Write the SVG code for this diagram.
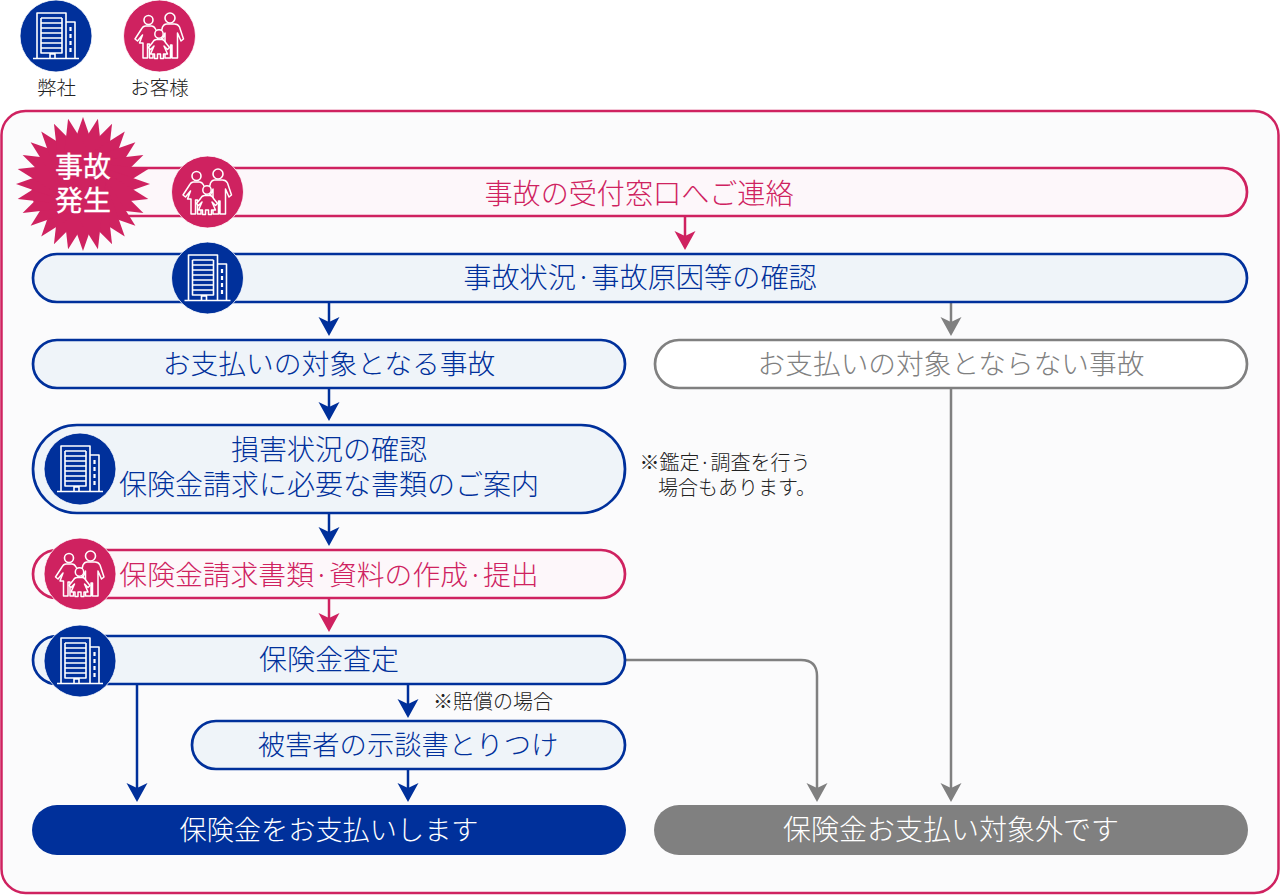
<svg xmlns="http://www.w3.org/2000/svg" width="1280" height="895" viewBox="0 0 1280 895">
<style>
text{font-family:"Noto Sans CJK JP","Noto Sans",sans-serif;text-anchor:middle;font-weight:300}
.t{font-size:28px}
.n{fill:#00309b}.p{fill:#cf2260}.g{fill:#808080}.w{fill:#fff}
.box{stroke-width:2.700}
.bn{fill:#eff4f9;stroke:#00309b}.bp{fill:#fdf7fa;stroke:#cf2260}.bg{fill:#fff;stroke:#808080}
.note{font-size:20px;fill:#222}
.lg{font-size:19.500px;fill:#222}
.ln{fill:none;stroke-width:2.500}
.i{fill:none;stroke:#fff;stroke-width:1.600;stroke-linejoin:round}
.f{fill:#cf2260;stroke:#fff;stroke-width:1.500;stroke-linejoin:round}
.burst{stroke:#fff;stroke-width:.3px;font-weight:400}
</style>
<defs>
<marker id="an" viewBox="0 -11 19 22" markerUnits="userSpaceOnUse" markerWidth="19" markerHeight="22" refX="5" refY="0" orient="auto"><path d="M19,0L0,-10.500L5,0L0,10.500Z" fill="#00309b"/></marker>
<marker id="ap" viewBox="0 -11 19 22" markerUnits="userSpaceOnUse" markerWidth="19" markerHeight="22" refX="5" refY="0" orient="auto"><path d="M19,0L0,-10.500L5,0L0,10.500Z" fill="#cf2260"/></marker>
<marker id="ag" viewBox="0 -11 19 22" markerUnits="userSpaceOnUse" markerWidth="19" markerHeight="22" refX="5" refY="0" orient="auto"><path d="M19,0L0,-10.500L5,0L0,10.500Z" fill="#808080"/></marker>
<g id="bld">
<circle r="36" fill="#00309b" stroke="#fff" stroke-width=".8"/>
<path class="i" d="M-19,22V-23H10V22M10,-14H19V22M-23,22.500H23M-15,-18H6M-15,-13H6M-15,-8H6M-15,-3H6M-15,2H6M-15,7H6M-15,12H6M-15,-18V17H6V-18M-6,22V18H-1V22"/>
<path d="M14.500,-9v4M14.500,-2v4M14.500,5v4M14.500,12v4" stroke="#fff" stroke-width="2.200" fill="none"/>
</g>
<g id="fam">
<circle r="36" fill="#cf2260" stroke="#fff" stroke-width=".8"/>
<circle class="i" cx="-11" cy="-16" r="4.500"/><circle class="i" cx="10.500" cy="-18" r="5"/>
<path class="f" d="M-14,-10H-8C-6,-10 -5,-9 -4,-7L-1,-1L-3,7H-6.500V22H-10V8H-12V22H-16.500V7H-20L-17,-1L-22,5L-24.500,3L-18,-7C-17,-9 -16,-10 -14,-10Z"/>
<path class="f" d="M5.500,22V-3L3,3L.5,1L3,-9C4,-11 5,-12 7,-12H15C18,-12 19,-11 20,-9L24,3L21.500,5L18,-3V22H12.500V9H11V22Z"/>
<circle class="f" cx="-.5" cy="-2" r="4.200"/>
<path class="f" d="M-3,3.500H2.500C4,3.500 5,4.500 6,6.500L10,11.500L8,13.500L4.500,10L8,18H4V22.500H1V18H-2V22.500H-5V18H-9L-5.500,10L-9,13.500L-11,11.500L-7,6.500C-6,4.500 -5,3.500 -3,3.500Z"/>
</g>
<polygon id="sp" points="0,-67 23.400,0 0,67 -23.400,0" fill="#cf2260"/>
</defs>
<rect x="1.500" y="111" width="1277" height="782" rx="24" fill="#fbfbfc" stroke="#cf2260" stroke-width="2.500"/>

<g id="legend-company"><use href="#bld" x="56" y="36"/><text class="lg" x="56.500" y="95">弊社</text></g>
<g id="legend-customer"><use href="#fam" x="159.500" y="36"/><text class="lg" x="159.500" y="95">お客様</text></g>

<g id="connectors">
<path class="ln" stroke="#cf2260" d="M685,217V236" marker-end="url(#ap)"/>
<path class="ln" stroke="#00309b" d="M329,302V322" marker-end="url(#an)"/>
<path class="ln" stroke="#808080" d="M951,302V322" marker-end="url(#ag)"/>
<path class="ln" stroke="#00309b" d="M329,388V407" marker-end="url(#an)"/>
<path class="ln" stroke="#00309b" d="M329,513V532" marker-end="url(#an)"/>
<path class="ln" stroke="#cf2260" d="M329,598V618" marker-end="url(#ap)"/>
<path class="ln" stroke="#00309b" d="M137,684V788" marker-end="url(#an)"/>
<path class="ln" stroke="#00309b" d="M408,684V704" marker-end="url(#an)"/>
<path class="ln" stroke="#00309b" d="M408,769V788" marker-end="url(#an)"/>
<path class="ln" stroke="#808080" d="M625,660H801Q817,660 817,676V788" marker-end="url(#ag)"/>
<path class="ln" stroke="#808080" d="M951,388V788" marker-end="url(#ag)"/>
</g>

<g id="n-accident-contact">
<rect class="box bp" x="33" y="168" width="1214" height="48" rx="24"/>
<text class="t p" x="639" y="204" style="font-size:28.100px">事故の受付窓口へご連絡</text>
<use href="#fam" x="207.500" y="192"/>
</g>
<g id="n-burst">
<g transform="translate(83,184)">
<use href="#sp"/><use href="#sp" transform="rotate(12.860)"/><use href="#sp" transform="rotate(25.710)"/><use href="#sp" transform="rotate(38.570)"/><use href="#sp" transform="rotate(51.430)"/><use href="#sp" transform="rotate(64.290)"/><use href="#sp" transform="rotate(77.140)"/><use href="#sp" transform="rotate(90)"/><use href="#sp" transform="rotate(102.860)"/><use href="#sp" transform="rotate(115.710)"/><use href="#sp" transform="rotate(128.570)"/><use href="#sp" transform="rotate(141.430)"/><use href="#sp" transform="rotate(154.290)"/><use href="#sp" transform="rotate(167.140)"/>
</g>
<text class="t w burst" x="83" y="177">事故</text>
<text class="t w burst" x="83" y="211">発生</text>
</g>
<g id="n-confirm">
<rect class="box bn" x="33" y="254" width="1214" height="48" rx="24"/>
<text class="t n" x="640" y="288" style="font-size:28.200px">事故状況·事故原因等の確認</text>
<use href="#bld" x="207.500" y="278"/>
</g>
<g id="n-covered">
<rect class="box bn" x="33" y="340" width="592" height="48" rx="24"/>
<text class="t n" x="329" y="374" style="font-size:27.800px">お支払いの対象となる事故</text>
</g>
<g id="n-not-covered">
<rect class="box bg" x="655" y="340" width="592" height="48" rx="24"/>
<text class="t g" x="951" y="374" style="font-size:27.700px">お支払いの対象とならない事故</text>
</g>
<g id="n-damage">
<rect class="box bn" x="33" y="425" width="592" height="88" rx="44"/>
<text class="t n" x="329" y="460">損害状況の確認</text>
<text class="t n" x="329" y="495">保険金請求に必要な書類のご案内</text>
<use href="#bld" x="80" y="469"/>
</g>
<text class="note" x="725" y="470">※鑑定·調査を行う</text>
<text class="note" x="737" y="495">場合もあります。</text>
<g id="n-documents">
<rect class="box bp" x="33" y="550" width="592" height="48" rx="24"/>
<text class="t p" x="329" y="585" style="font-size:27.800px">保険金請求書類·資料の作成·提出</text>
<use href="#fam" x="80" y="574"/>
</g>
<g id="n-assess">
<rect class="box bn" x="33" y="636" width="592" height="48" rx="24"/>
<text class="t n" x="329" y="670">保険金査定</text>
<use href="#bld" x="80" y="661"/>
</g>
<text class="note" x="493" y="709">※賠償の場合</text>
<g id="n-settlement">
<rect class="box bn" x="192" y="721" width="433" height="48" rx="24"/>
<text class="t n" x="408" y="755" style="font-size:27.300px">被害者の示談書とりつけ</text>
</g>
<g id="n-pay">
<rect class="n" x="32" y="805" width="594" height="50" rx="25"/>
<text class="t w" x="329" y="840" style="font-size:27.200px">保険金をお支払いします</text>
</g>
<g id="n-nopay">
<rect class="g" x="654" y="805" width="594" height="50" rx="25"/>
<text class="t w" x="951" y="840">保険金お支払い対象外です</text>
</g>
</svg>
